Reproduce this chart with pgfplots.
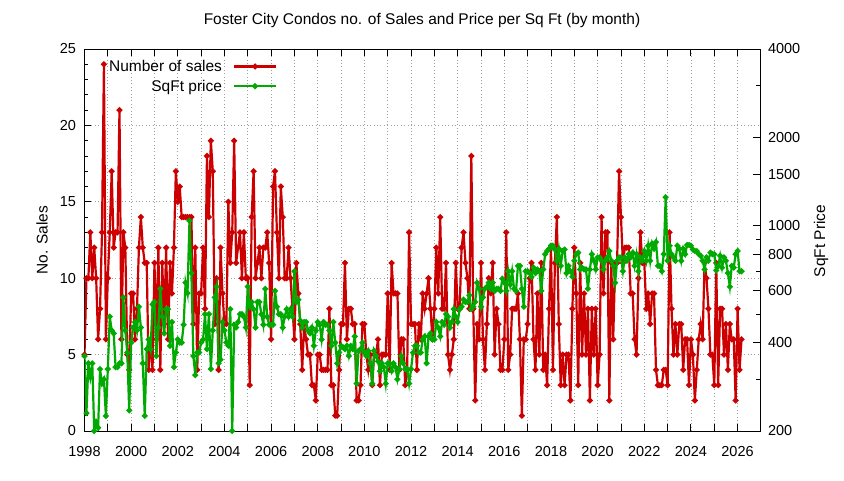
\documentclass[border=0pt]{standalone}
\usepackage{fontspec}
\setmainfont{Liberation Sans}
\usepackage{pgfplots}
\usepackage{pgfplotstable}
\pgfplotsset{compat=1.18}

\definecolor{salesred}{RGB}{204,0,0}
\definecolor{pricegreen}{RGB}{0,170,0}

% one row per month from Jan 1998: s = number of sales, p = price per sq ft
\pgfplotstableread{
s p
5 360
10 230
10 340
13 305
10 340
12 200
10 215
6 205
8 325
13 290
24 300
6 225
10 325
13 490
17 440
12 430
13 330
13 330
21 340
6 340
13 570
12 440
5 370
4 235
9 400
9 450
6 470
8 440
12 530
14 450
12 340
11 225
11 380
4 410
6 380
4 540
11 550
6 360
12 450
4 610
11 490
7 430
12 520
6 520
11 390
9 470
12 330
17 370
15 410
16 400
14 400
14 460
14 640
14 590
14 1040
14 690
7 360
12 310
4 370
9 370
9 400
12 410
8 500
18 380
14 500
19 325
17 440
7 570
10 620
4 340
12 350
9 470
7 440
7 400
15 390
11 520
13 200
19 460
11 450
12 470
13 500
10 500
13 490
10 450
10 620
3 530
14 550
17 520
10 450
11 550
12 550
10 500
12 460
12 610
13 490
11 460
6 460
16 460
17 600
13 530
10 500
16 500
14 450
10 490
10 520
12 490
10 520
8 490
6 700
11 550
9 560
7 475
4 450
7 470
6 470
5 440
5 430
3 450
3 390
2 440
5 470
5 460
4 410
4 470
4 460
4 460
8 440
3 390
3 470
1 400
1 340
4 370
7 390
7 385
11 380
6 390
8 360
8 390
7 380
7 420
2 290
2 375
3 380
7 400
7 370
5 360
4 375
5 340
3 290
5 375
5 360
6 345
3 320
5 340
5 330
5 290
9 340
4 340
11 320
9 340
9 330
9 300
4 325
6 360
6 340
3 325
4 325
13 290
7 325
7 370
7 390
4 390
7 370
6 370
9 410
8 420
9 340
10 420
8 430
6 410
8 410
12 470
9 450
14 420
8 470
8 460
11 500
5 490
4 450
5 470
6 520
11 490
8 470
8 520
12 530
13 560
11 550
10 550
8 580
18 520
8 530
2 550
7 640
6 610
11 530
6 570
4 610
7 620
10 640
9 610
11 640
5 600
8 610
7 610
4 600
4 660
6 640
13 600
4 700
5 630
8 700
8 610
8 600
9 730
6 730
1 610
6 530
6 700
7 700
10 690
11 670
6 720
4 690
9 710
5 700
11 600
4 710
5 800
3 820
8 835
12 855
4 855
11 830
14 760
7 835
3 730
5 820
3 830
5 690
5 730
2 700
8 670
12 760
9 800
3 810
11 710
5 720
9 710
5 710
8 610
2 710
8 800
5 760
8 710
3 780
5 780
14 760
9 710
13 760
13 780
2 820
11 760
6 730
11 640
11 760
17 780
14 780
11 700
12 780
12 760
12 800
9 780
9 810
6 730
5 800
10 700
13 780
11 760
11 820
8 760
9 855
7 760
9 870
9 835
4 880
3 730
3 730
3 700
4 800
4 1250
3 760
13 855
8 800
5 780
7 760
5 855
7 835
7 760
4 835
6 800
6 860
3 860
6 855
5 830
2 820
4 820
6 800
7 790
6 760
11 710
10 780
8 760
5 810
5 800
3 800
11 705
3 730
8 790
8 720
5 780
7 760
4 690
7 620
6 730
6 720
2 800
8 820
4 700
6 700
}\monthly

\newcommand\labelfont{\fontsize{15.5}{18}\selectfont}
\newcommand\tickfont{\fontsize{14.5}{17}\selectfont}

\begin{document}
\begin{tikzpicture}
\useasboundingbox (0pt,0pt) rectangle (844pt,480pt);

\node[font=\labelfont, anchor=base] at (422pt,455pt)
  {Foster City Condos no. of Sales and Price per Sq Ft (by month)};
\node[font=\labelfont, rotate=90] at (42pt,240pt) {No. Sales};
\node[font=\labelfont, rotate=90] at (821pt,239pt) {SqFt Price};

% left axis: number of sales
\begin{axis}[
  at={(84.5pt,49pt)}, anchor=south west,
  width=675.5pt, height=382pt, scale only axis,
  xmin=1998, xmax=2026.96, ymin=0, ymax=25,
  xtick={1998,1999,...,2026},
  xticklabels={1998,,2000,,2002,,2004,,2006,,2008,,2010,,2012,,2014,,2016,,2018,,2020,,2022,,2024,,2026},
  ytick={0,5,...,25}, minor y tick num=4,
  xtick pos=both, ytick pos=left, tick align=inside,
  major tick length=7pt, minor tick length=3.5pt,
  axis line style={line width=0.9pt},
  tick style={black, line width=0.8pt},
  xmajorgrids, ymajorgrids,
  grid style={gray!75, line width=0.7pt, dash pattern=on 0.8pt off 2.6pt},
  /pgf/number format/assume math mode=true,
  ticklabel style={font=\tickfont},
  xticklabel style={yshift=-12pt},
  yticklabel style={xshift=-5pt},
]
\addplot[salesred, line width=2.2pt, mark=*, mark size=1.7pt]
  table[x expr=1998+\coordindex/12, y=s] {\monthly};
\end{axis}

% right axis: price per sq ft, log scale
\begin{axis}[
  at={(84.5pt,49pt)}, anchor=south west,
  width=675.5pt, height=382pt, scale only axis,
  xmin=1998, xmax=2026.96,
  ymode=log, ymin=200, ymax=4000,
  hide x axis, axis y line*=right,
  ytick={200,400,600,800,1000,1500,2000,4000},
  yticklabels={200,400,600,800,1000,1500,2000,4000},
  minor ytick={300,500,700,900,3000},
  tick align=inside,
  major tick length=7pt, minor tick length=4pt,
  axis line style={line width=0.9pt},
  tick style={black, line width=0.8pt},
  ticklabel style={font=\tickfont},
  yticklabel style={xshift=4.5pt},
  legend plot pos=right,
  legend cell align=right,
  legend image code/.code={
    \draw[mark repeat=2, mark phase=2, #1, line width=2.2pt]
      plot coordinates {(0pt,0pt) (21pt,0pt) (42pt,0pt)};},
  legend style={draw=none, fill=none, font=\labelfont,
    at={(0.29,0.982)}, anchor=north east, row sep=3pt, column sep=9pt},
]
\addlegendimage{salesred, line width=2.2pt, mark=*, mark size=1.7pt}
\addlegendentry{Number of sales}
\addplot[pricegreen, line width=2.2pt, mark=*, mark size=1.7pt]
  table[x expr=1998+\coordindex/12, y=p] {\monthly};
\addlegendentry{SqFt price}
\end{axis}
\end{tikzpicture}
\end{document}
